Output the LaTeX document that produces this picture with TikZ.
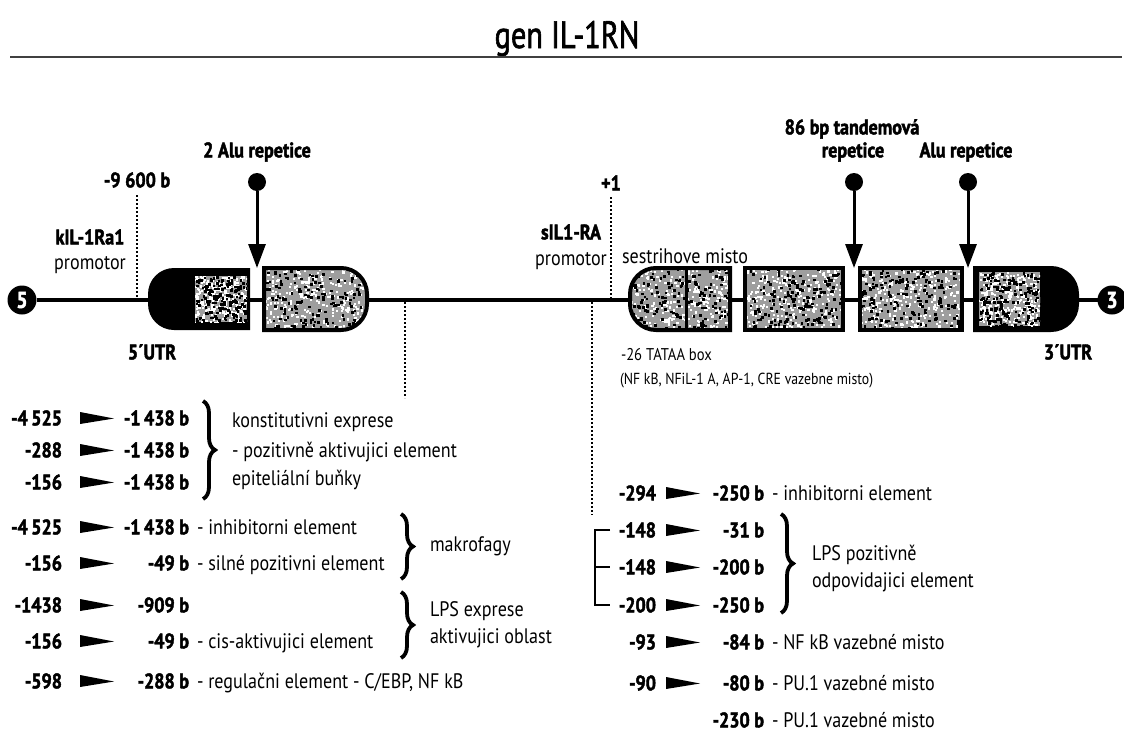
\documentclass[tikz,border=0pt]{standalone}
\usepackage{fontspec}
\setmainfont{PT Sans}[FakeStretch=0.86, BoldFeatures={FakeBold=2}]
\newfontfamily\titlef{PT Sans}[FakeStretch=0.8, FakeBold=1.6]
\usetikzlibrary{decorations.pathreplacing,arrows.meta}
\newcommand{\rcap}[2]{(#1,268) -- ({#2-26},268) arc[start angle=90,end angle=0,radius=26pt] -- (#2,304) arc[start angle=0,end angle=-90,radius=26pt] -- (#1,330) -- cycle}
\newcommand{\lcap}[2]{(#2,268) -- ({#1+26},268) arc[start angle=90,end angle=180,radius=26pt] -- (#1,304) arc[start angle=180,end angle=270,radius=26pt] -- (#2,330) -- cycle}
\newcommand{\noisefill}[4]{%
  \fill[black!38] (#1,#2) rectangle (#3,#4);
  \foreach \k in {1,...,280}{%
    \pgfmathsetmacro\rx{#1+rnd*(#3-#1)}%
    \pgfmathsetmacro\ry{#2+rnd*(#4-#2)}%
    \fill[white] (\rx,\ry) rectangle ++(2.2,2.2);
  }%
  \foreach \k in {1,...,170}{%
    \pgfmathsetmacro\rx{#1+rnd*(#3-#1)}%
    \pgfmathsetmacro\ry{#2+rnd*(#4-#2)}%
    \fill[black] (\rx,\ry) rectangle ++(2.6,2.6);
  }%
}
\newcommand{\wedgeA}[2]{\fill (#1,{#2-6}) -- ({#1+34},{#2+0.5}) -- (#1,{#2+6}) -- cycle;}
\begin{document}
\begin{tikzpicture}[x=1pt,y=-1pt,
  every node/.style={inner sep=0pt, outer sep=0pt},
  num/.style={font=\bfseries\fontsize{21}{21}\selectfont, text height=14.7pt, text depth=0pt},
  txt/.style={font=\fontsize{21}{21}\selectfont, text height=14.7pt, text depth=0pt},
  sml/.style={font=\fontsize{17}{17}\selectfont, text height=11.9pt, text depth=0pt},
  dotline/.style={line width=1.8pt, dash pattern=on 1.8pt off 2.2pt},
  brc/.style={decorate, decoration={brace, amplitude=12pt}, line width=3.8pt},
  genel/.style={line width=4pt},
  arrline/.style={line width=3pt, -{Triangle[length=24pt,width=17pt]}},
  lolly/.style={circle, fill=black, minimum size=18pt},
  endc/.style={circle, fill=black, minimum size=29pt, text=white, font=\bfseries\fontsize{23}{23}\selectfont},
  thinln/.style={line width=1.3pt}
]
\useasboundingbox (0,0) rectangle (1124,731);
\pgfmathsetseed{11}
% title
\node[font=\titlef\fontsize{38}{38}\selectfont, anchor=base] (title) at (567,48) {gen IL-1RN};
\coordinate (rl) at (10,57); \coordinate (rr) at (1122,57);
\draw[black!75, line width=1.1pt] (rl) -- (rr);

% gene line
\node[endc] (p5) at (22,300) {5};
\node[endc] (p3) at (1112,300) {3};
\draw[genel] (p5) -- (p3);

% element A (5'UTR + exon)
\fill \lcap{148}{250};
\begin{scope}\clip (195,276) rectangle (247,322); \noisefill{195}{276}{247}{322}\end{scope}
% element B
\begin{scope}\clip \rcap{264}{367}; \noisefill{264}{268}{367}{330}\end{scope}
\draw[line width=4pt] \rcap{264}{367};
% element C
\begin{scope}\clip \lcap{630}{730}; \noisefill{630}{268}{730}{330}\end{scope}
\draw[line width=4pt] \lcap{630}{730};
\draw[line width=3pt] (686,268) -- (686,330);
% element D
\begin{scope}\clip (745,268) rectangle (843,330); \noisefill{745}{268}{843}{330}\end{scope}
\draw[line width=4pt] (745,268) rectangle (843,330);
% element E
\begin{scope}\clip (860,268) rectangle (962,330); \noisefill{860}{268}{962}{330}\end{scope}
\draw[line width=4pt] (860,268) rectangle (962,330);
% element F (exon + 3'UTR)
\fill \rcap{975}{1077};
\begin{scope}\clip (979,272) rectangle (1040,326); \noisefill{979}{272}{1040}{326}\end{scope}
\draw[line width=4pt] \rcap{975}{1077};

% lollipops
\node[lolly] (l1) at (257,182) {};
\coordinate (t1) at (257,268);
\draw[arrline] (l1) -- (t1);
\node[lolly] (l2) at (854,182) {};
\coordinate (t2) at (854,268);
\draw[arrline] (l2) -- (t2);
\node[lolly] (l3) at (968,182) {};
\coordinate (t3) at (968,268);
\draw[arrline] (l3) -- (t3);

% top labels
\node[num] (alu1) at (257,150) {2 Alu repetice};
\node[num] (tand1) at (852,127) {86 bp tandemová};
\node[num] (tand2) at (853,150) {repetice};
\node[num] (alu2) at (966,150) {Alu repetice};
\node[num] (m9600) at (137,180) {-9 600 b};
\node[num] (kil) at (90,237) {kIL-1Ra1};
\node[txt] (prom1) at (90,262) {promotor};
\node[num] (plus1) at (611,183) {+1};
\node[num] (sil) at (571,232) {sIL1-RA};
\node[txt] (prom2) at (571,258) {promotor};
\node[txt, anchor=west] (sest) at (622,256) {sestrihove misto};
\node[num] (utr5) at (152,352) {5´UTR};
\node[num] (utr3) at (1068,352) {3´UTR};
\node[sml, anchor=west] (tata) at (621,355) {-26 TATAA box};
\node[sml, anchor=west, font=\fontsize{16}{16}\selectfont] (nfkb) at (620,379) {(NF kB, NFiL-1 A, AP-1, CRE vazebne misto)};

% dotted lines
\coordinate (d1t) at (137,195); \coordinate (d1b) at (137,298);
\draw[dotline] (d1t) -- (d1b);
\coordinate (d2t) at (405,302); \coordinate (d2b) at (405,398);
\draw[dotline] (d2t) -- (d2b);
\coordinate (d3t) at (611,197); \coordinate (d3b) at (611,298);
\draw[dotline] (d3t) -- (d3b);
\coordinate (d4t) at (592,302); \coordinate (d4b) at (592,515);
\draw[dotline] (d4t) -- (d4b);

% left table
\foreach \yy/\a/\b/\nm in {418/{-4\,525}/{-1\,438 b}/La, 450/{-288}/{-1\,438 b}/Lb, 482/{-156}/{-1\,438 b}/Lc,
  527/{-4\,525}/{-1\,438 b}/Ld, 563/{-156}/{-49 b}/Le, 605/{-1438}/{-909 b}/Lf, 641/{-156}/{-49 b}/Lg, 681/{-598}/{-288 b}/Lh}{
  \node[num, anchor=east] (\nm1) at (62,\yy) {\a};
  \node[num, anchor=east] (\nm2) at (189,\yy) {\b};
  \wedgeA{80}{\yy}
}
\node[txt, anchor=west] (Ldd) at (197,527) {- inhibitorni element};
\node[txt, anchor=west] (Led) at (197,563) {- silné pozitivni element};
\node[txt, anchor=west] (Lgd) at (197,641) {- cis-aktivujici element};
\node[txt, anchor=west] (Lhd) at (197,681) {- regulačni element - C/EBP, NF kB};

\coordinate (b1t) at (203,401); \coordinate (b1b) at (203,499);
\draw[brc] (b1t) -- (b1b);
\node[txt, anchor=west] (k1) at (232,420) {konstitutivni exprese};
\node[txt, anchor=west] (k2) at (232,450) {- pozitivně aktivujici element};
\node[txt, anchor=west] (k3) at (232,478) {epiteliální buňky};

\coordinate (b2t) at (401,514); \coordinate (b2b) at (401,579);
\draw[brc] (b2t) -- (b2b);
\node[txt, anchor=west] (makro) at (430,544) {makrofagy};

\coordinate (b3t) at (401,592); \coordinate (b3b) at (401,658);
\draw[brc] (b3t) -- (b3b);
\node[txt, anchor=west] (lps1) at (430,609) {LPS exprese};
\node[txt, anchor=west] (lps2) at (430,636) {aktivujici oblast};

% right table
\foreach \yy/\a/\b/\nm in {493/{-294}/{-250 b}/Ra, 530/{-148}/{-31 b}/Rb, 567/{-148}/{-200 b}/Rc,
  605/{-200}/{-250 b}/Rd, 642/{-93}/{-84 b}/Re, 683/{-90}/{-80 b}/Rf}{
  \node[num, anchor=east] (\nm1) at (656,\yy) {\a};
  \node[num, anchor=east] (\nm2) at (764,\yy) {\b};
  \wedgeA{666}{\yy}
}
\node[num, anchor=east] (Rg2) at (764,720) {-230 b};
\node[txt, anchor=west] (Rad) at (772,493) {- inhibitorni element};
\node[txt, anchor=west] (Red) at (772,642) {- NF kB vazebné misto};
\node[txt, anchor=west] (Rfd) at (772,683) {- PU.1 vazebné misto};
\node[txt, anchor=west] (Rgd) at (772,720) {- PU.1 vazebné misto};

\coordinate (q1) at (610,530); \coordinate (q2) at (595,530);
\coordinate (q3) at (595,605); \coordinate (q4) at (610,605);
\coordinate (q5) at (595,567); \coordinate (q6) at (610,567);
\draw[thinln] (q1) -- (q2) -- (q3) -- (q4);
\draw[thinln] (q5) -- (q6);

\coordinate (b4t) at (781,514); \coordinate (b4b) at (781,613);
\draw[brc] (b4t) -- (b4b);
\node[txt, anchor=west] (lps3) at (812,553) {LPS pozitivně};
\node[txt, anchor=west] (lps4) at (812,580) {odpovidajici element};
\end{tikzpicture}
\end{document}
